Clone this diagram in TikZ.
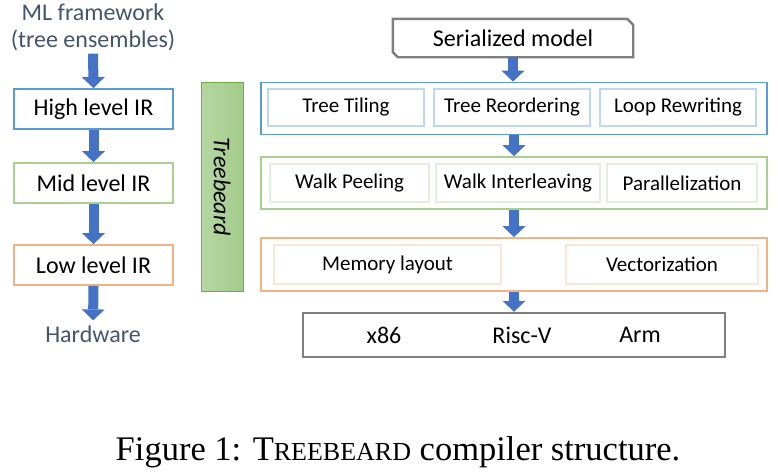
\documentclass[tikz,border=0pt]{standalone}
\usepackage{fontspec}
\setmainfont{Carlito}
\newfontfamily\capfont{Liberation Serif}
\usepackage{xcolor}
\usetikzlibrary{arrows.meta,positioning}
\definecolor{cblue}{HTML}{5B9BD5}
\definecolor{cgreen}{HTML}{A9D18E}
\definecolor{corange}{HTML}{F4B183}
\definecolor{lblue}{HTML}{BDD7EE}
\definecolor{lgreen}{HTML}{E2F0D9}
\definecolor{lorange}{HTML}{FBE5D6}
\definecolor{cgray}{HTML}{7F7F7F}
\definecolor{carrow}{HTML}{4472C4}
\definecolor{slate}{HTML}{44546A}
\definecolor{bartop}{HTML}{B6D6A3}
\definecolor{barbot}{HTML}{A3CB8A}
\definecolor{barline}{HTML}{70AD47}

\begin{document}
\begin{tikzpicture}[x=1pt, y=-1pt,
      lvl/.style={draw, line width=1.8pt, minimum width=159pt, minimum height=40pt,
      font=\fontsize{24}{28}\selectfont},
      stage/.style={draw, line width=1.8pt, minimum width=506pt, minimum height=52pt},
      pass/.style={draw, line width=1.2pt, minimum height=37pt,
      font=\fontsize{21}{25}\selectfont},
      lbl/.style={inner sep=0pt, font=\fontsize{24}{27}\selectfont},
      blockarrow/.style={draw=carrow, line width=10pt,
      -{Triangle[width=23pt,length=11pt,line width=0pt]}}]
    \useasboundingbox (0,0) rectangle (778,474);
    % left column
    \node[lbl, slate, align=center] (ml) at (93,27) {ML framework\\(tree ensembles)};
    \node[lvl, draw=cblue] (high) at (93.5,109) {High level IR};
    \node[lvl, draw=cgreen] (mid) at (93.5,183) {Mid level IR};
    \node[lvl, draw=corange] (low) at (93.5,265) {Low level IR};
    \node[lbl, slate] (hw) at (93,334) {Hardware};
    \draw[blockarrow, shorten <=3pt] (ml.south) -- (high.north);
    \draw[blockarrow] (high.south) -- (mid.north);
    \draw[blockarrow] (mid.south) -- (low.north);
    \draw[blockarrow, shorten >=5pt] (low.south) -- (hw.north);
    % treebeard bar
    \node[draw=barline, line width=0.8pt, rotate=-90, left color=bartop, right color=barbot,
      minimum width=209pt, minimum height=42pt, font=\fontsize{24}{28}\selectfont\itshape]
      (tb) at (222,186.5) {Treebeard};
    % right column
    \node[minimum width=240pt, minimum height=38pt, font=\fontsize{24}{28}\selectfont]
      (ser) at (513,38) {Serialized model};
    \draw[cgray, line width=2.4pt] (ser.north west) -- ([xshift=-6pt]ser.north east)
      -- ([yshift=-6pt]ser.north east) -- (ser.south east)
      -- ([xshift=5pt]ser.south west) -- ([yshift=5pt]ser.south west) -- cycle;
    \node[stage, draw=cblue] (hir) at (514,108.5) {};
    \node[pass, draw=lblue, minimum width=156pt] (tiling) at (346,107.5) {Tree Tiling};
    \node[pass, draw=lblue, minimum width=156pt] (reorder) at (512,107.5) {Tree Reordering};
    \node[pass, draw=lblue, minimum width=156pt] (loop) at (678,107.5) {Loop Rewriting};
    \node[stage, draw=cgreen] (mir) at (514,183) {};
    \node[pass, draw=lgreen, minimum width=159pt, minimum height=38pt] (peel) at (349.5,183) {Walk Peeling};
    \node[pass, draw=lgreen, minimum width=164pt, minimum height=38pt] (inter) at (518,183) {Walk Interleaving};
    \node[pass, draw=lgreen, minimum width=150pt, minimum height=38pt] (par) at (682,183) {Parallelization};
    \node[stage, draw=corange, minimum height=53pt] (lir) at (514,264.5) {};
    \node[pass, draw=lorange, minimum width=227pt, minimum height=39pt] (mem) at (387.5,264.5) {Memory layout};
    \node[pass, draw=lorange, minimum width=192pt, minimum height=39pt] (vec) at (662,264.5) {Vectorization};
    \node[draw=cgray, line width=2.4pt, minimum width=422pt, minimum height=44pt] (target) at (514,335) {};
    \node[lbl] (x86) at (384,335) {x86};
    \node[lbl] (riscv) at (522,335) {Risc-V};
    \node[lbl] (arm) at (640,335) {Arm};
    \draw[blockarrow] (ser.south) -- (ser.south |- hir.north);
    \draw[blockarrow] (hir.south) -- (mir.north);
    \draw[blockarrow] (mir.south) -- (lir.north);
    \draw[blockarrow] (lir.south) -- (target.north);
    % caption
    \node[font=\capfont\fontsize{34.5}{40}\selectfont] (cap) at (398,452)
      {Figure 1: T{\fontsize{26}{30}\selectfont REEBEARD} compiler structure.};
\end{tikzpicture}
\end{document}
